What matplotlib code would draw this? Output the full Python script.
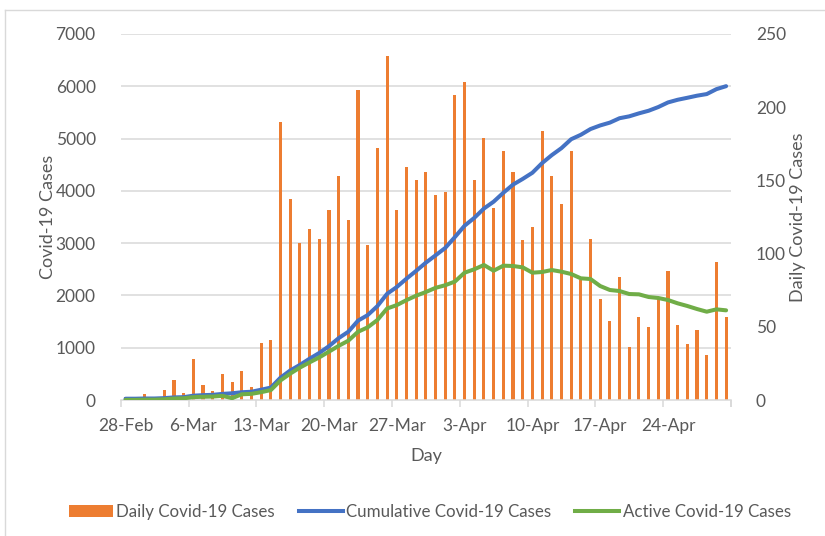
import numpy as np
import matplotlib
matplotlib.use("Agg")
import matplotlib.pyplot as plt
import matplotlib.transforms as mtransforms
from matplotlib.lines import Line2D
from matplotlib.patches import Patch

plt.rcParams['font.family'] = ['Lato', 'DejaVu Sans']

# 28-Feb .. 30-Apr 2020, one value per day
tick_labels = ['28-Feb', '6-Mar', '13-Mar', '20-Mar', '27-Mar', '3-Apr', '10-Apr', '17-Apr', '24-Apr']

daily = [2, 0, 4, 0, 7, 14, 5, 28, 10, 6, 18, 12, 20, 9, 39, 41,
         190, 137, 107, 117, 110, 130, 153, 123, 212, 106, 172, 235, 130, 159, 150, 156,
         140, 142, 208, 217, 150, 179, 131, 170, 156, 109, 118, 184, 153, 134, 170, 82,
         110, 69, 54, 84, 36, 57, 50, 70, 88, 51, 38, 48, 31, 94, 57]

cumulative = [25, 25, 29, 29, 36, 50, 55, 83, 93, 99, 117, 129, 149, 158, 197, 238,
              428, 565, 672, 790, 900, 1030, 1183, 1306, 1518, 1624, 1796, 2031, 2161, 2320, 2470, 2626,
              2766, 2908, 3116, 3333, 3483, 3662, 3793, 3963, 4119, 4228, 4346, 4530, 4683, 4817, 4987, 5072,
              5182, 5251, 5305, 5389, 5425, 5482, 5532, 5603, 5691, 5742, 5780, 5820, 5851, 5945, 6002]

active = [3, 3, 7, 7, 14, 28, 33, 55, 62, 66, 80, 35, 110, 118, 150, 190,
          375, 505, 620, 720, 815, 925, 1035, 1135, 1305, 1390, 1530, 1750, 1815, 1910, 1995, 2065,
          2145, 2195, 2265, 2435, 2500, 2582, 2473, 2569, 2563, 2537, 2435, 2448, 2486, 2454, 2410, 2327,
          2314, 2180, 2104, 2084, 2027, 2021, 1970, 1951, 1912, 1849, 1798, 1740, 1689, 1734, 1715]

orange = '#ED7D31'
blue = '#4472C4'
green = '#70AD47'
grey_txt = '#595959'
grid_c = '#D9D9D9'

x = np.arange(len(daily))

fig = plt.figure(figsize=(8.25, 5.36), dpi=100)
ax = fig.add_axes([0.1463, 0.2537, 0.7397, 0.6829])   # bars, right axis
ax2 = ax.twinx()                                        # lines, left axis

ax.set_xlim(-0.5, len(daily) - 0.5)
ax.set_ylim(0, 250)
ax2.set_ylim(0, 7000)

# gridlines from the left axis, drawn under the bars
tr = mtransforms.blended_transform_factory(ax.transAxes, ax2.transData)
for g in range(1000, 7001, 1000):
    ax.plot([0, 1], [g, g], transform=tr, color=grid_c, lw=1.1, zorder=0)

ax.bar(x, daily, width=0.32, color=orange, zorder=2)
ax2.plot(x, cumulative, color=blue, lw=2.9, solid_capstyle='round', zorder=3)
ax2.plot(x, active, color=green, lw=2.9, solid_capstyle='round', zorder=4)

for a in (ax, ax2):
    for s in a.spines.values():
        s.set_visible(False)
ax.spines['bottom'].set_visible(True)
ax.spines['bottom'].set_color(grid_c)
ax.spines['bottom'].set_linewidth(1.1)

# right axis (daily)
ax.yaxis.tick_right()
ax.yaxis.set_label_position('right')
ax.set_yticks(np.arange(0, 251, 50))
ax.tick_params(axis='y', length=0, pad=18, labelsize=12.5, labelcolor=grey_txt)
ax.set_ylabel('Daily Covid-19 Cases', fontsize=13, color=grey_txt, labelpad=3)

# left axis (cases)
ax2.yaxis.tick_left()
ax2.yaxis.set_label_position('left')
ax2.set_yticks(np.arange(0, 7001, 1000))
ax2.tick_params(axis='y', length=0, pad=18, labelsize=12.5, labelcolor=grey_txt)
ax2.set_ylabel('Covid-19 Cases', fontsize=13, color=grey_txt, labelpad=0)

# x axis: tick marks at week boundaries, labels at category centres
bounds = list(np.arange(-0.5, len(daily), 7)) + [len(daily) - 0.5]
ax.set_xticks(bounds)
ax.set_xticklabels([''] * len(bounds))
ax.tick_params(axis='x', which='major', length=5, color=grid_c, width=1.1)
ax.set_xticks(np.arange(0, len(daily), 7)[:len(tick_labels)], minor=True)
ax.set_xticklabels(tick_labels, minor=True)
ax.tick_params(axis='x', which='minor', length=0, pad=13, labelsize=12.5, labelcolor=grey_txt)
ax.set_xlabel('Day', fontsize=13, color=grey_txt, labelpad=10)

handles = [Patch(facecolor=orange, edgecolor='none'),
           Line2D([0], [0], color=blue, lw=2.9),
           Line2D([0], [0], color=green, lw=2.9)]
fig.legend(handles, ['Daily Covid-19 Cases', 'Cumulative Covid-19 Cases', 'Active Covid-19 Cases'],
           loc='center', bbox_to_anchor=(0.521, 0.045), ncol=3, frameon=False,
           fontsize=12.2, labelcolor=grey_txt, handlelength=2.6, handletextpad=0.2,
           columnspacing=1.4, handleheight=0.7)

# chart area border (left and top visible)
fig.add_artist(Line2D([5 / 825, 5 / 825], [0, 1 - 10 / 536], color=grid_c, lw=1))
fig.add_artist(Line2D([5 / 825, 1], [1 - 10 / 536, 1 - 10 / 536], color=grid_c, lw=1))

fig.savefig('out.png', dpi=100)
